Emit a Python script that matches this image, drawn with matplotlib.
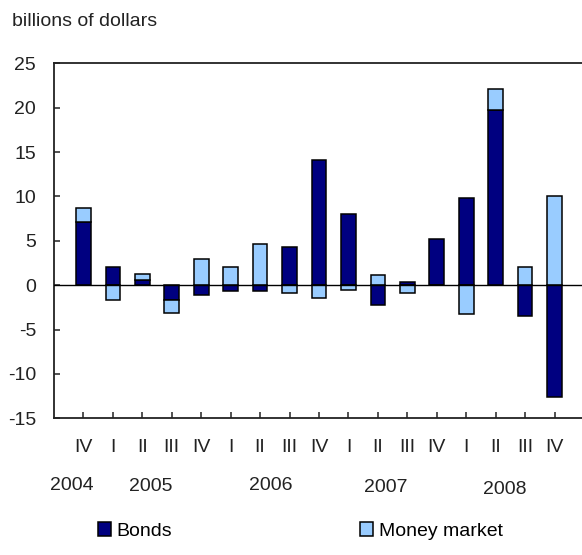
import numpy as np
import matplotlib
matplotlib.use("Agg")
import matplotlib.pyplot as plt
import matplotlib.transforms as mtransforms

plt.rcParams['font.family'] = ['Liberation Sans', 'DejaVu Sans']
plt.rcParams['axes.unicode_minus'] = False

# quarterly net flows, billions of dollars
quarters = ['IV', 'I', 'II', 'III', 'IV', 'I', 'II', 'III', 'IV',
            'I', 'II', 'III', 'IV', 'I', 'II', 'III', 'IV']
bonds = [7.1, 2.1, 0.6, -1.7, -1.1, -0.7, -0.7, 4.3, 14.1,
         8.0, -2.2, 0.4, 5.2, 9.8, 19.7, -3.5, -12.6]
money_market = [1.6, -1.7, 0.7, -1.4, 3.0, 2.0, 4.6, -0.9, -1.5,
                -0.5, 1.1, -0.9, 0.0, -3.3, 2.4, 2.0, 10.0]
years = ['2004', '2005', '2006', '2007', '2008']
year_pos = [-0.39, 2.30, 6.35, 10.25, 14.32]   # x position in category units
year_y = [-0.190, -0.191, -0.188, -0.196, -0.201]  # axes fraction

yticks = [-15, -10, -5, 0, 5, 10, 15, 20, 25]

navy = '#000080'
light = '#99CCFF'

fig = plt.figure(figsize=(5.82, 5.55), dpi=100)
W, H = 582, 555
ax = fig.add_axes([54.3 / W, 1 - 418.3 / H, (584 - 54.3) / W, (418.3 - 63.3) / H])

x = np.arange(len(quarters))
b = np.array(bonds)
m = np.array(money_market)
# stack positives up from zero and negatives down from zero, bonds nearest the axis
m_bottom = np.where(np.sign(m) == np.sign(b), b, 0.0)

ax.bar(x, b, width=0.5, color=navy, edgecolor='black', linewidth=1.1, label='Bonds', zorder=2)
ax.bar(x, m, width=0.5, bottom=m_bottom, color=light, edgecolor='black', linewidth=1.1,
       label='Money market', zorder=2)
ax.axhline(0, color='black', linewidth=1.0, zorder=3)

ax.set_xlim(-0.99, 17.0)
ax.set_ylim(-15, 25)
ax.set_yticks(yticks)
ax.set_xticks(x)
ax.set_xticklabels(quarters)

for s in ['left', 'bottom', 'top']:
    ax.spines[s].set_linewidth(1.3)
    ax.spines[s].set_color('#222222')
ax.spines['right'].set_visible(False)

ax.tick_params(axis='both', direction='in', length=4, width=1.1, labelsize=14, colors='#222222')
ax.tick_params(axis='y', pad=13)
ax.tick_params(axis='x', pad=15)

trans = mtransforms.blended_transform_factory(ax.transData, ax.transAxes)
for yr, xp, yp in zip(years, year_pos, year_y):
    ax.text(xp, yp, yr, transform=trans, ha='center', va='center', fontsize=14, color='#222222')

fig.text(12 / W, 1 - 26 / H, 'billions of dollars', ha='left', va='baseline', fontsize=14,
         color='#222222')

handles, labels = ax.get_legend_handles_labels()
fig.legend(handles, labels, loc='center left', bbox_to_anchor=(98 / W, 1 - 531 / H),
           ncol=2, frameon=False, fontsize=14, handlelength=0.67, handleheight=0.67,
           handletextpad=0.3, columnspacing=9.65, borderpad=0, borderaxespad=0)

fig.savefig('out.png', dpi=100)
